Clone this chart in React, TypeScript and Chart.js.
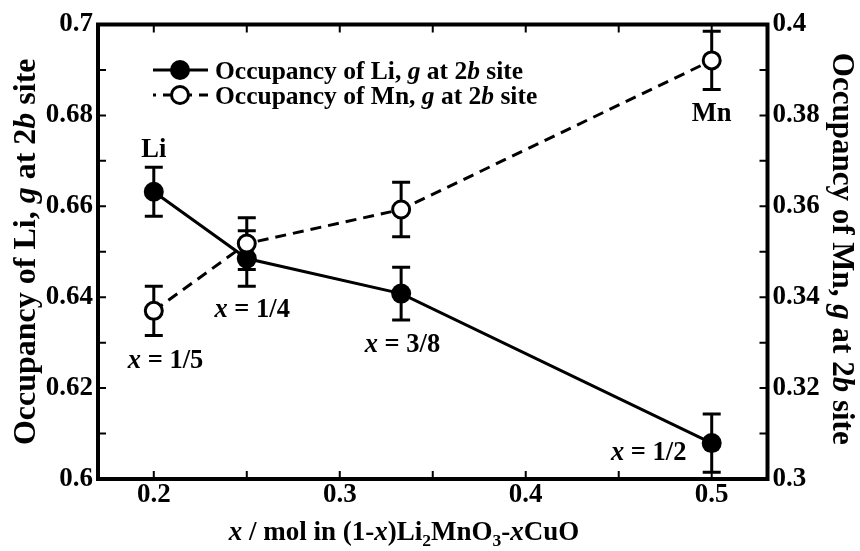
import React, { useEffect, useRef } from 'react';
import { Chart, registerables } from 'chart.js';

Chart.register(...registerables);

const FONT = '"Liberation Serif", "Times New Roman", serif';

// ---- data ----
const xValues = [0.2, 0.25, 0.333, 0.5];
const liValues = [0.6632, 0.6485, 0.6408, 0.6079];
const liErrors = [0.0054, 0.0061, 0.0058, 0.0064];
const mnValues = [0.337, 0.3518, 0.3593, 0.3921];
const mnErrors = [0.0054, 0.0057, 0.006, 0.0064];

// ---- ticks ----
const xTicks = [0.2, 0.25, 0.3, 0.35, 0.4, 0.45, 0.5];
const xTickLabels = ['0.2', '', '0.3', '', '0.4', '', '0.5'];
const yLeftTicks = [0.6, 0.61, 0.62, 0.63, 0.64, 0.65, 0.66, 0.67, 0.68, 0.69, 0.7];
const yLeftTickLabels = ['0.6', '', '0.62', '', '0.64', '', '0.66', '', '0.68', '', '0.7'];
const yRightTicks = [0.3, 0.31, 0.32, 0.33, 0.34, 0.35, 0.36, 0.37, 0.38, 0.39, 0.4];
const yRightTickLabels = ['0.3', '', '0.32', '', '0.34', '', '0.36', '', '0.38', '', '0.4'];

type Seg = { t: string; i?: boolean; sub?: boolean };

// ---- texts ----
const xTitle: Seg[] = [
  { t: 'x', i: true }, { t: ' / mol in (1-' }, { t: 'x', i: true }, { t: ')Li' }, { t: '2', sub: true },
  { t: 'MnO' }, { t: '3', sub: true }, { t: '-' }, { t: 'x', i: true }, { t: 'CuO' },
];
const yLeftTitle: Seg[] = [{ t: 'Occupancy of Li, ' }, { t: 'g', i: true }, { t: ' at 2' }, { t: 'b', i: true }, { t: ' site' }];
const yRightTitle: Seg[] = [{ t: 'Occupancy of Mn, ' }, { t: 'g', i: true }, { t: ' at 2' }, { t: 'b', i: true }, { t: ' site' }];
const legendLi: Seg[] = [{ t: 'Occupancy of Li, ' }, { t: 'g', i: true }, { t: ' at 2' }, { t: 'b', i: true }, { t: ' site' }];
const legendMn: Seg[] = [{ t: 'Occupancy of Mn, ' }, { t: 'g', i: true }, { t: ' at 2' }, { t: 'b', i: true }, { t: ' site' }];

const annotationTexts: Seg[][] = [
  [{ t: 'Li' }],
  [{ t: 'Mn' }],
  [{ t: 'x', i: true }, { t: ' = 1/5' }],
  [{ t: 'x', i: true }, { t: ' = 1/4' }],
  [{ t: 'x', i: true }, { t: ' = 3/8' }],
  [{ t: 'x', i: true }, { t: ' = 1/2' }],
];
const annotationX = [0.2, 0.5, 0.2063, 0.2529, 0.3337, 0.4661];
const annotationY = [0.6708, 0.6788, 0.6244, 0.6356, 0.6279, 0.6042];

function segFont(s: Seg, size: number) {
  const sz = s.sub ? size * 0.65 : size;
  return `${s.i ? 'italic ' : ''}bold ${sz}px ${FONT}`;
}

function richWidth(ctx: CanvasRenderingContext2D, segs: Seg[], size: number) {
  let w = 0;
  for (const s of segs) {
    ctx.font = segFont(s, size);
    w += ctx.measureText(s.t).width;
  }
  return w;
}

function drawRich(
  ctx: CanvasRenderingContext2D,
  segs: Seg[],
  x: number,
  y: number,
  size: number,
  align: 'left' | 'center',
  rotation = 0
) {
  ctx.save();
  ctx.translate(x, y);
  ctx.rotate(rotation);
  ctx.textBaseline = 'alphabetic';
  ctx.textAlign = 'left';
  ctx.fillStyle = '#000';
  const w = richWidth(ctx, segs, size);
  let cx = align === 'center' ? -w / 2 : 0;
  for (const s of segs) {
    ctx.font = segFont(s, size);
    ctx.fillText(s.t, cx, s.sub ? size * 0.22 : 0);
    cx += ctx.measureText(s.t).width;
  }
  ctx.restore();
}

const errorBarPlugin = {
  id: 'errorBars',
  beforeDatasetsDraw(chart: any) {
    const ctx = chart.ctx as CanvasRenderingContext2D;
    const xs = chart.scales.x;
    const sets = [
      { vals: liValues, errs: liErrors, scale: chart.scales.y },
      { vals: mnValues, errs: mnErrors, scale: chart.scales.y2 },
    ];
    ctx.save();
    ctx.strokeStyle = '#000';
    ctx.lineWidth = 3;
    ctx.setLineDash([]);
    for (const s of sets) {
      s.vals.forEach((v, i) => {
        const px = xs.getPixelForValue(xValues[i]);
        const top = s.scale.getPixelForValue(v + s.errs[i]);
        const bot = s.scale.getPixelForValue(v - s.errs[i]);
        ctx.beginPath();
        ctx.moveTo(px, top);
        ctx.lineTo(px, bot);
        ctx.moveTo(px - 9, top);
        ctx.lineTo(px + 9, top);
        ctx.moveTo(px - 9, bot);
        ctx.lineTo(px + 9, bot);
        ctx.stroke();
      });
    }
    ctx.restore();
  },
};

const framePlugin = {
  id: 'frame',
  afterDraw(chart: any) {
    const ctx = chart.ctx as CanvasRenderingContext2D;
    const a = chart.chartArea;
    const xs = chart.scales.x;
    const yl = chart.scales.y;
    const yr = chart.scales.y2;
    ctx.save();
    ctx.setLineDash([]);
    ctx.strokeStyle = '#000';
    // inward ticks
    ctx.lineWidth = 2;
    const TL = 8;
    ctx.beginPath();
    for (const t of xs.ticks) {
      const px = xs.getPixelForValue(t.value);
      ctx.moveTo(px, a.bottom);
      ctx.lineTo(px, a.bottom - TL);
      ctx.moveTo(px, a.top);
      ctx.lineTo(px, a.top + TL);
    }
    for (const t of yl.ticks) {
      const py = yl.getPixelForValue(t.value);
      ctx.moveTo(a.left, py);
      ctx.lineTo(a.left + TL, py);
    }
    for (const t of yr.ticks) {
      const py = yr.getPixelForValue(t.value);
      ctx.moveTo(a.right, py);
      ctx.lineTo(a.right - TL, py);
    }
    ctx.stroke();
    // frame
    ctx.lineWidth = 4;
    ctx.strokeRect(a.left, a.top, a.right - a.left, a.bottom - a.top);

    // axis titles
    drawRich(ctx, xTitle, 404, 540, 27, 'center');
    drawRich(ctx, yLeftTitle, 35, (a.top + a.bottom) / 2, 32, 'center', -Math.PI / 2);
    drawRich(ctx, yRightTitle, 833, (a.top + a.bottom) / 2 - 3, 31, 'center', Math.PI / 2);

    // legend
    const rows = [
      { segs: legendLi, y: 70, dash: [] as number[], fill: '#000', r: 10 },
      { segs: legendMn, y: 95, dash: [11, 7], fill: '#fff', r: 8.5 },
    ];
    for (const row of rows) {
      ctx.lineWidth = 3;
      ctx.setLineDash(row.dash);
      ctx.lineDashOffset = 8;
      ctx.beginPath();
      ctx.moveTo(153, row.y);
      ctx.lineTo(208, row.y);
      ctx.stroke();
      ctx.setLineDash([]);
      ctx.beginPath();
      ctx.arc(180, row.y, row.r, 0, Math.PI * 2);
      ctx.fillStyle = row.fill;
      ctx.fill();
      if (row.fill === '#fff') ctx.stroke();
      drawRich(ctx, row.segs, 215, row.y + 9, 25.5, 'left');
    }

    // annotations
    annotationTexts.forEach((segs, i) => {
      const px = xs.getPixelForValue(annotationX[i]);
      const py = yl.getPixelForValue(annotationY[i]);
      drawRich(ctx, segs, px, py, 26.5, 'center');
    });
    ctx.restore();
  },
};

export default function App() {
  const ref = useRef<HTMLCanvasElement | null>(null);
  useEffect(() => {
    if (!ref.current) return;
    const tickFont = { family: FONT, size: 27, weight: 'bold' as const };
    const chart = new Chart(ref.current, {
      type: 'line',
      data: {
        datasets: [
          {
            label: 'Occupancy of Li, g at 2b site',
            data: xValues.map((x, i) => ({ x, y: liValues[i] })),
            yAxisID: 'y',
            borderColor: '#000',
            borderWidth: 3,
            pointRadius: 10,
            pointBackgroundColor: '#000',
            pointBorderColor: '#000',
            pointBorderWidth: 0,
            tension: 0,
            order: 1,
          },
          {
            label: 'Occupancy of Mn, g at 2b site',
            data: xValues.map((x, i) => ({ x, y: mnValues[i] })),
            yAxisID: 'y2',
            borderColor: '#000',
            borderWidth: 3,
            borderDash: [11, 7],
            pointRadius: 8.5,
            pointBackgroundColor: '#fff',
            pointBorderColor: '#000',
            pointBorderWidth: 3,
            tension: 0,
            order: 0,
          },
        ],
      },
      options: {
        responsive: false,
        animation: false,
        devicePixelRatio: 1,
        layout: { padding: { top: 24.5, left: 0, right: 0, bottom: 0 } },
        plugins: { legend: { display: false }, tooltip: { enabled: false } },
        scales: {
          x: {
            type: 'linear',
            min: 0.17,
            max: 0.53,
            grid: { display: false, drawTicks: false },
            border: { display: false },
            afterBuildTicks: (s: any) => {
              s.ticks = xTicks.map((v) => ({ value: v }));
            },
            afterFit: (s: any) => {
              s.height = 72;
            },
            ticks: {
              autoSkip: false,
              maxRotation: 0,
              padding: 0,
              color: '#000',
              font: tickFont,
              callback: (_v: any, i: number) => xTickLabels[i],
            },
          },
          y: {
            type: 'linear',
            position: 'left',
            min: 0.6,
            max: 0.7,
            grid: { display: false, drawTicks: false },
            border: { display: false },
            afterBuildTicks: (s: any) => {
              s.ticks = yLeftTicks.map((v) => ({ value: v }));
            },
            afterFit: (s: any) => {
              s.width = 98;
            },
            ticks: {
              autoSkip: false,
              padding: 5,
              color: '#000',
              font: tickFont,
              callback: (_v: any, i: number) => yLeftTickLabels[i],
            },
          },
          y2: {
            type: 'linear',
            position: 'right',
            min: 0.3,
            max: 0.4,
            grid: { display: false, drawTicks: false },
            border: { display: false },
            afterBuildTicks: (s: any) => {
              s.ticks = yRightTicks.map((v) => ({ value: v }));
            },
            afterFit: (s: any) => {
              s.width = 92.5;
            },
            ticks: {
              autoSkip: false,
              padding: 5,
              color: '#000',
              font: tickFont,
              callback: (_v: any, i: number) => yRightTickLabels[i],
            },
          },
        },
      },
      plugins: [errorBarPlugin, framePlugin],
    });
    return () => chart.destroy();
  }, []);
  return (
    <div style={{ position: 'fixed', left: 0, top: 0, width: 860, height: 551, background: '#fff' }}>
      <canvas ref={ref} width={860} height={551} style={{ display: 'block' }} />
    </div>
  );
}
